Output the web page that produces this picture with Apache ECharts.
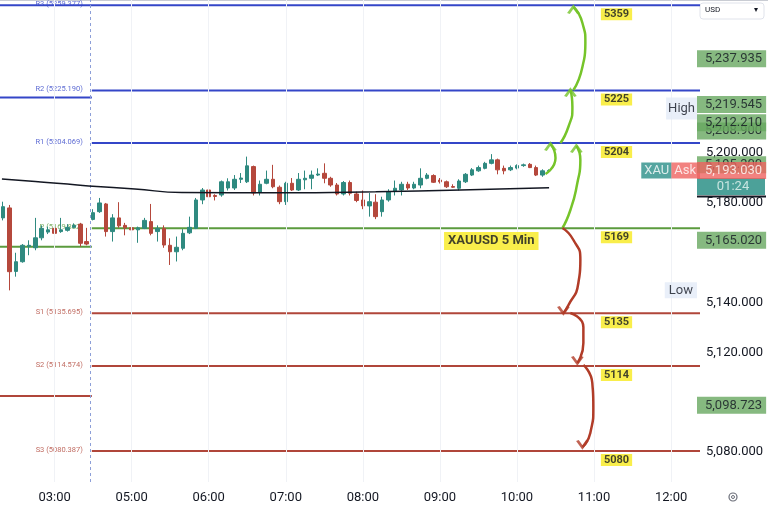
<!DOCTYPE html>
<html>
<head>
<meta charset="utf-8">
<script src="https://cdn.jsdelivr.net/npm/echarts@6/dist/echarts.min.js"></script>
<style>
  html, body { margin: 0; padding: 0; background: #fff; }
  #chart { width: 768px; height: 512px; }
</style>
</head>
<body>
<div id="chart"></div>
<script>
// 5 min slots, session gap between 03:25 and 04:30
const times = [
  '02:20','02:25','02:30','02:35','02:40','02:45','02:50','02:55',
  '03:00','03:05','03:10','03:15','03:20','03:25',
  '04:30','04:35','04:40','04:45','04:50','04:55',
  '05:00','05:05','05:10','05:15','05:20','05:25','05:30','05:35','05:40','05:45','05:50','05:55',
  '06:00','06:05','06:10','06:15','06:20','06:25','06:30','06:35','06:40','06:45','06:50','06:55',
  '07:00','07:05','07:10','07:15','07:20','07:25','07:30','07:35','07:40','07:45','07:50','07:55',
  '08:00','08:05','08:10','08:15','08:20','08:25','08:30','08:35','08:40','08:45','08:50','08:55',
  '09:00','09:05','09:10','09:15','09:20','09:25','09:30','09:35','09:40','09:45','09:50','09:55',
  '10:00','10:05','10:10','10:15','10:20','10:25','10:30','10:35','10:40','10:45','10:50','10:55',
  '11:00','11:05','11:10','11:15','11:20','11:25','11:30','11:35','11:40','11:45','11:50','11:55',
  '12:00','12:05','12:10','12:15','12:20'
];

// [open, close, low, high]
const candles = [
  [5174, 5178.5, 5173, 5180.5], [5178, 5152.4, 5144.9, 5179.2], [5152.5, 5156.4, 5150.4, 5160],
  [5156.4, 5163, 5156, 5163.5], [5162.5, 5163, 5159, 5165], [5162, 5166, 5161, 5174],
  [5166, 5169.8, 5165, 5171], [5168.3, 5169.2, 5167.5, 5170.5], [5169.8, 5167.8, 5167, 5171],
  [5168.5, 5169.2, 5168, 5174], [5169, 5170.2, 5168.5, 5171.5], [5170.2, 5171, 5169.8, 5171.8],
  [5171.5, 5163.8, 5162.5, 5172], [5164.5, 5163.5, 5163, 5170],
  [5173.4, 5176.1, 5173, 5177.5], [5176.5, 5180, 5176, 5182], [5179.6, 5168.5, 5166.5, 5180],
  [5168.5, 5174, 5164.5, 5175.5], [5174, 5170.8, 5170, 5180.3], [5171, 5170, 5167, 5172],
  [5170, 5169.2, 5165, 5170.8], [5169.2, 5170, 5164, 5170.5], [5169.8, 5173, 5169.5, 5174],
  [5172.5, 5167.8, 5167, 5179.6], [5168.5, 5169.8, 5164.5, 5171], [5169.8, 5163.1, 5162, 5171],
  [5163, 5160.4, 5155.1, 5165.8], [5160.4, 5162.2, 5156.5, 5166.5], [5161.8, 5167.8, 5161, 5169.5],
  [5168, 5170.2, 5167.5, 5174.5], [5169.8, 5181.2, 5169.5, 5182], [5181.2, 5185.2, 5179.5, 5186],
  [5185.2, 5182.5, 5182, 5189.8], [5183, 5182.6, 5181, 5183.5], [5183.2, 5188.5, 5182.5, 5189],
  [5186, 5188.5, 5185, 5189.9], [5186, 5189.5, 5185.2, 5191.2], [5189.5, 5190, 5188, 5192],
  [5188.5, 5194.9, 5188, 5198.6], [5194.6, 5184, 5183, 5195], [5184.2, 5187.5, 5183, 5189],
  [5187.9, 5189.5, 5187.5, 5193], [5189.5, 5186.5, 5185.9, 5195.3], [5186.3, 5180.5, 5179.5, 5187],
  [5180.5, 5187.9, 5179.2, 5188.5], [5187.9, 5185.2, 5184.8, 5190], [5185.2, 5189.5, 5184.8, 5192],
  [5189.3, 5189.9, 5185.5, 5193], [5189.9, 5191.2, 5185.5, 5193], [5191.2, 5191.6, 5190.8, 5193.9],
  [5191.9, 5189.9, 5187.9, 5195.9], [5189.9, 5187.2, 5186.5, 5190.5], [5187.2, 5183.6, 5183, 5188],
  [5183.6, 5188.2, 5183, 5188.8], [5188.2, 5183.9, 5183, 5189], [5183.6, 5181, 5180.3, 5184.5],
  [5181.2, 5178.8, 5177.5, 5185], [5178.8, 5180.5, 5174.5, 5184], [5180.3, 5174.5, 5173.5, 5183.5],
  [5176.5, 5181.2, 5174.5, 5182.5], [5181.2, 5184.6, 5180.5, 5185.5], [5184.6, 5185.9, 5183, 5189],
  [5185.2, 5187.5, 5183, 5188.5], [5187.5, 5186, 5185.2, 5188.5], [5186, 5187.5, 5185.5, 5188.5],
  [5187.2, 5189.9, 5185.9, 5193.9], [5189.9, 5191.2, 5189.5, 5192], [5191, 5188.3, 5188, 5191.5],
  [5189.2, 5188.5, 5187.8, 5190], [5188.5, 5186.5, 5186, 5189], [5186.6, 5186.3, 5186, 5187.5],
  [5185.9, 5188.8, 5185, 5189.5], [5188.5, 5191.5, 5188, 5192], [5191.2, 5193.3, 5190.8, 5194],
  [5192.9, 5194.2, 5192.5, 5195], [5193.9, 5195.9, 5193.5, 5196.5], [5195.9, 5197.3, 5195.5, 5199.6],
  [5197.3, 5193.3, 5191.5, 5197.8], [5193.9, 5192.9, 5191.5, 5195], [5193.3, 5194.2, 5192.8, 5195],
  [5194, 5195, 5193.5, 5195.5], [5195, 5195.3, 5194.5, 5195.8], [5195.5, 5194.2, 5194, 5196],
  [5194.2, 5191.2, 5190.8, 5195], [5191.2, 5192.9, 5190.5, 5193.5], [5192.9, 5193.03, 5192.5, 5193.5]
];

// moving average, read at a few slots
const maPoints = [
  [-0.2, 5189.6], [5, 5188.6], [10, 5187.6], [13.3, 5186.8], [20.5, 5185.6],
  [27.8, 5184.2], [43.3, 5184.1], [58, 5184.5], [71.2, 5185.2], [85, 5186.1]
];

const levelNames = ['R3', 'R2', 'R1', 'P', 'S1', 'S2', 'S3'];
const levelValues = [5259.377, 5225.190, 5204.069, 5169.882, 5135.695, 5114.574, 5080.387];
const levelTargets = ['5359', '5225', '5204', '5169', '5135', '5114', '5080'];
const prevLevelValues = [5222.3, 5162.4, 5102.5]; // previous session R2, P, S2

// only the scale labels that are not hidden under price tags
const priceTicks = [5080, 5120, 5140, 5180, 5200];
const underBoxes = [5208.9, 5195.3];
const greenBoxes = [5237.935, 5219.545, 5212.210, 5165.020, 5098.723];
const askPrice = 5193.030;
const countdown = '01:24';
const dayHigh = 5219.545;
const dayLow = 5144.905;

const upArrows = [
  [[84.44, 5191.62], [86.0, 5198.05], [85.21, 5203.67]],
  [[86.76, 5204.07], [88.0, 5210.5], [88.63, 5218.53], [88.32, 5225.35]],
  [[88.79, 5225.35], [90.19, 5234.59], [90.65, 5244.22], [90.19, 5252.25], [88.79, 5258.68]],
  [[87.08, 5169.94], [88.32, 5177.17], [89.4, 5188.01], [89.87, 5197.25], [89.25, 5202.87]]
];
const downArrows = [
  [[87.08, 5169.94], [88.79, 5165.12], [89.87, 5157.09], [89.56, 5147.86], [87.85, 5138.22], [87.23, 5135.81]],
  [[88.32, 5135.81], [90.34, 5130.19], [90.34, 5123.77], [89.4, 5115.74]],
  [[90.34, 5114.93], [91.73, 5107.70], [91.89, 5098.07], [91.42, 5087.63], [90.19, 5082.0]]
];

const titleText = 'XAUUSD 5 Min';
const titleAt = [76, 5164.7];

const FONT = 'Roboto';
const sessionStart = 13.8;
const xEnd = 108.5;
const colR = '#3446c8', colP = '#5b9b3e', colS = '#b0463a';
const green = '#76c42a', red = '#b13c28';

function fmt(v) {
  return v.toLocaleString('en-US', { minimumFractionDigits: 3, maximumFractionDigits: 3 });
}
function levelColor(name) {
  return name[0] === 'R' ? colR : (name[0] === 'P' ? colP : colS);
}

let chart = echarts.init(document.getElementById('chart'));
let series = [];

// faint hour grid + session break
let hourLines = [];
times.forEach((t, i) => {
  if (t.endsWith(':00')) hourLines.push({ xAxis: i, lineStyle: { color: '#f0f2f6', width: 1, type: 'solid' } });
});
hourLines.push({ xAxis: 13.5, lineStyle: { color: '#8d9fd8', width: 1, type: [3, 3] } });
series.push({
  type: 'line', xAxisIndex: 1, data: [], z: 1, silent: true,
  markLine: { silent: true, symbol: ['none', 'none'], label: { show: false }, animation: false, data: hourLines }
});

// pivot levels
levelNames.forEach((name, i) => {
  let v = levelValues[i];
  let start = name === 'R3' ? -0.5 : sessionStart;
  series.push({
    type: 'line', xAxisIndex: 1, data: [[start, v], [xEnd, v]], showSymbol: false, silent: true, z: 2,
    lineStyle: { color: levelColor(name), width: 2 }
  });
});
prevLevelValues.forEach((v, i) => {
  series.push({
    type: 'line', xAxisIndex: 1, data: [[-0.5, v], [sessionStart, v]], showSymbol: false, silent: true, z: 2,
    lineStyle: { color: [colR, colP, colS][i], width: 2 }
  });
});
series.push({
  type: 'scatter', xAxisIndex: 1, symbolSize: 0, silent: true, z: 3,
  data: levelNames.map((name, i) => ({
    value: [12.4, levelValues[i]],
    label: {
      show: true, position: 'left', distance: 0, offset: [0, -1],
      formatter: name + ' (' + levelValues[i].toFixed(3) + ')',
      color: levelColor(name), fontSize: 7.5, fontFamily: FONT
    }
  }))
});

// candles
series.push({
  type: 'candlestick', data: candles, barWidth: 4, z: 4, silent: true,
  itemStyle: { color: '#2f8a80', color0: '#b5483c', borderColor: '#2f8a80', borderColor0: '#b5483c', borderWidth: 1 }
});

// moving average
series.push({
  type: 'line', xAxisIndex: 1, data: maPoints, smooth: 0.5, showSymbol: false, silent: true, z: 5,
  lineStyle: { color: '#131722', width: 1.5 }
});

// hand drawn arrows
const chevron = 'path://M0,9L6,0L12,9';
upArrows.forEach(pts => series.push({
  type: 'line', xAxisIndex: 1, data: pts, smooth: 0.6, showSymbol: false, silent: true, z: 6,
  lineStyle: { color: green, width: 2.5 }
}));
downArrows.forEach(pts => series.push({
  type: 'line', xAxisIndex: 1, data: pts, smooth: 0.6, showSymbol: false, silent: true, z: 6,
  lineStyle: { color: red, width: 2.5 }
}));
series.push({
  type: 'scatter', xAxisIndex: 1, symbol: chevron, symbolSize: [10, 7], symbolOffset: [0, 3], silent: true, z: 7,
  itemStyle: { color: 'rgba(0,0,0,0)', borderColor: green, borderWidth: 2.5 },
  data: upArrows.map(a => a[a.length - 1])
});
series.push({
  type: 'scatter', xAxisIndex: 1, symbol: chevron, symbolSize: [10, 7], symbolRotate: 180, symbolOffset: [0, -3], silent: true, z: 7,
  itemStyle: { color: 'rgba(0,0,0,0)', borderColor: red, borderWidth: 2.5 },
  data: downArrows.map(a => a[a.length - 1])
});

// yellow target tags + title tag
series.push({
  type: 'scatter', xAxisIndex: 1, symbolSize: 0, silent: true, z: 8,
  data: levelTargets.map((t, i) => ({
    value: [95.5, levelValues[i]],
    label: {
      show: true, position: 'inside', offset: [0, 9], formatter: t,
      backgroundColor: '#f7ea1e', color: '#131722', fontWeight: 'bold', fontSize: 11,
      fontFamily: FONT, padding: [1, 3, 0, 3]
    }
  })).concat([{
    value: titleAt,
    label: {
      show: true, position: 'inside', formatter: titleText,
      backgroundColor: '#f7ea1e', color: '#131722', fontWeight: 'bold', fontSize: 13,
      fontFamily: FONT, padding: [3, 4, 2, 4]
    }
  }])
});

// High / Low / symbol tags left of the price scale
series.push({
  type: 'scatter', xAxisIndex: 1, symbolSize: 0, silent: true, z: 8, clip: false,
  label: { show: true, position: 'left', distance: 3, fontSize: 13, fontFamily: FONT, color: '#131722' },
  data: [
    { value: [xEnd, dayHigh], label: { formatter: 'High', backgroundColor: '#e4ebf7', padding: [5, 2, 4, 2], offset: [0, 4] } },
    { value: [xEnd, dayLow], label: { formatter: 'Low', backgroundColor: '#e4ebf7', padding: [2, 4, 1, 4] } },
    { value: [xEnd, askPrice], label: {
      distance: 0, formatter: '{a|XAU}{b|Ask}',
      rich: {
        a: { backgroundColor: '#2a8e88', color: '#fff', fontSize: 13, fontFamily: FONT, padding: [2, 2, 1, 3], lineHeight: 14 },
        b: { backgroundColor: '#ef6360', color: '#fff', fontSize: 13, fontFamily: FONT, padding: [2, 4, 1, 3], lineHeight: 14 }
      }
    } }
  ]
});

// price tags on the scale, one layer per tier so the order holds
const tagLabel = { show: true, position: 'right', distance: -3, fontSize: 13, fontFamily: FONT, color: '#131722', padding: [2, 4, 1, 8], lineHeight: 14 };
function tagSeries(z, data) {
  return { type: 'scatter', xAxisIndex: 1, symbolSize: 0, silent: true, zlevel: 1, z: z, clip: false, label: tagLabel, data: data };
}
series.push(tagSeries(1, underBoxes.map(v => ({ value: [xEnd, v], label: { formatter: fmt(v), backgroundColor: '#68a860' } }))));
series.push(tagSeries(2, greenBoxes.map(v => ({ value: [xEnd, v], label: { formatter: fmt(v), backgroundColor: '#68a860' } }))));
series.push(tagSeries(3, [
  { value: [xEnd, askPrice], label: {
    formatter: '{t|' + countdown + '}', backgroundColor: '#1f8a7f', offset: [0, 16],
    borderColor: '#131722', borderWidth: 0,
    rich: { t: { width: 56, align: 'center', color: '#e8f6f3', fontSize: 13, fontFamily: FONT, lineHeight: 14 } }
  } }
]));
series.push(tagSeries(4, [
  { value: [xEnd, askPrice], label: { formatter: fmt(askPrice), backgroundColor: '#ef6360', color: '#fff' } }
]));

let option = {
  animation: false,
  grid: { left: -2, right: 68, top: 0, height: 482 },
  xAxis: [
    {
      type: 'category', data: times, boundaryGap: true,
      axisLine: { show: false }, axisTick: { show: false }, splitLine: { show: false },
      axisLabel: {
        interval: (i, v) => v.endsWith(':00'),
        color: '#131722', fontSize: 13, fontFamily: FONT, margin: 9
      }
    },
    { type: 'value', min: -0.5, max: xEnd, show: false }
  ],
  yAxis: {
    type: 'value', position: 'right', min: 5067.95, max: 5261.49, scale: true,
    axisLine: { show: false }, axisTick: { show: false }, splitLine: { show: false },
    axisLabel: {
      customValues: priceTicks, formatter: v => fmt(v),
      color: '#131722', fontSize: 13, fontFamily: FONT, margin: 6
    }
  },
  graphic: [
    { type: 'line', shape: { x1: 0, y1: 0.5, x2: 768, y2: 0.5 }, style: { stroke: '#c9ccd3', lineWidth: 1 } },
    { type: 'line', shape: { x1: 697, y1: 196.5, x2: 766, y2: 196.5 }, style: { stroke: '#131722', lineWidth: 2 } },
    { type: 'rect', shape: { x: 700, y: 3, width: 64, height: 16, r: 3 }, style: { fill: '#fff', stroke: '#e0e3eb' } },
    { type: 'text', x: 705, y: 6, style: { text: 'USD', fontSize: 8, fontFamily: FONT, fill: '#131722' } },
    { type: 'text', x: 754, y: 6, style: { text: '▾', fontSize: 8, fontFamily: FONT, fill: '#131722' } },
    { type: 'circle', shape: { cx: 733, cy: 497, r: 4 }, style: { fill: 'none', stroke: '#6a6d78', lineWidth: 1.2 } },
    { type: 'circle', shape: { cx: 733, cy: 497, r: 1.5 }, style: { fill: 'none', stroke: '#6a6d78', lineWidth: 1 } }
  ],
  series: series
};
chart.setOption(option);
</script>
</body>
</html>
